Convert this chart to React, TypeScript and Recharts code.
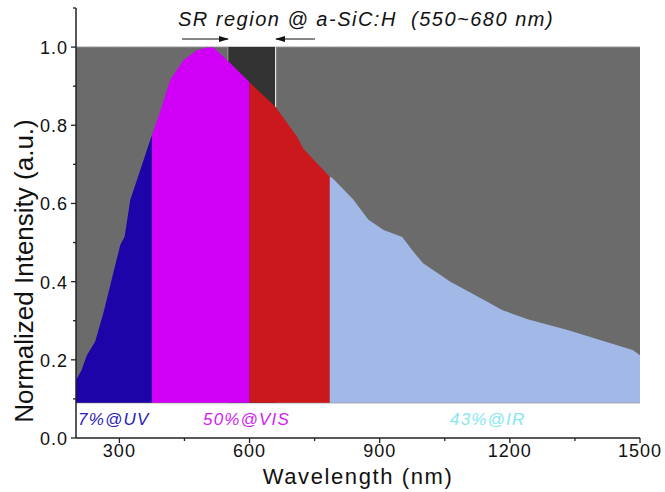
import { ComposedChart, Area, XAxis, YAxis, ReferenceLine } from 'recharts';

// spectrum
const wavelengths = [
  200, 213, 225, 244, 263, 282, 302, 312, 325, 348, 375, 394, 417, 448, 479, 502, 517,
  550, 600, 660, 710, 724, 785, 791, 839, 874, 909, 952, 975, 1000, 1063, 1149, 1183,
  1241, 1333, 1393, 1483, 1500,
];
const intensity = [
  0.148, 0.174, 0.212, 0.246, 0.319, 0.404, 0.494, 0.515, 0.609, 0.685, 0.775, 0.835, 0.916,
  0.967, 0.992, 0.999, 0.999, 0.965, 0.91, 0.847, 0.77, 0.74, 0.668, 0.665, 0.61, 0.558, 0.532,
  0.514, 0.48, 0.447, 0.4, 0.348, 0.327, 0.304, 0.276, 0.256, 0.225, 0.212,
];

const regionKeys = ['uv', 'vis', 'red', 'ir'];
const regionEdges = [200, 375, 600, 785, 1500];
const regionColors = ['#1c04a8', '#d000f6', '#cb181c', '#a2b9e8'];
const srBand = [550, 660];
const baseline = 0.09;

const xTicks = [300, 450, 600, 750, 900, 1050, 1200, 1350, 1500];
const xLabelled = [300, 600, 900, 1200, 1500];
const yTicks = [0, 0.1, 0.2, 0.3, 0.4, 0.5, 0.6, 0.7, 0.8, 0.9, 1.0, 1.1];
const yLabelled = [0, 0.2, 0.4, 0.6, 0.8, 1.0];

const labels = [
  { text: '7%@UV', color: '#2a1db8', x: 78 },
  { text: '50%@VIS', color: '#d21cf0', x: 203 },
  { text: '43%@IR', color: '#86e6f2', x: 450 },
];

const chartData = wavelengths.map((w, i) => {
  const row: Record<string, any> = { w, bg: [baseline, 1] };
  row.band = w >= srBand[0] && w <= srBand[1] ? [baseline, 1] : null;
  regionKeys.forEach((k, r) => {
    row[k] = w >= regionEdges[r] && w <= regionEdges[r + 1] ? [baseline, intensity[i]] : null;
  });
  return row;
});

const bandEdgeValue = (w: number) => intensity[wavelengths.indexOf(w)];

const FONT = '"Liberation Sans", Arial, sans-serif';

function XTick({ x, y, payload }: any) {
  const major = xLabelled.includes(payload.value);
  return (
    <g>
      <line x1={x} x2={x} y1={y} y2={y + (major ? 5 : 3)} stroke="#222" strokeWidth={1.3} />
      {major && (
        <text x={x} y={y + 19} textAnchor="middle" fontSize={18} letterSpacing={1} fill="#111" fontFamily={FONT}>
          {payload.value}
        </text>
      )}
    </g>
  );
}

function YTick({ x, y, payload }: any) {
  const v = Math.round(payload.value * 10) / 10;
  const major = yLabelled.some((t) => Math.abs(t - v) < 1e-6);
  return (
    <g>
      <line x1={x} x2={x - (major ? 5 : 3)} y1={y} y2={y} stroke="#222" strokeWidth={1.3} />
      {major && (
        <text x={x - 8} y={y + 7} textAnchor="end" fontSize={18} letterSpacing={1} fill="#111" fontFamily={FONT}>
          {v.toFixed(1)}
        </text>
      )}
    </g>
  );
}

export default function App() {
  return (
    <div style={{ position: 'relative', width: 665, height: 492, background: '#fff' }}>
      <style>{'body{margin:0}'}</style>
      <ComposedChart
        width={665}
        height={492}
        data={chartData}
        margin={{ top: 8, right: 25, left: 0, bottom: 0 }}
      >
        <XAxis
          dataKey="w"
          type="number"
          domain={[200, 1500]}
          ticks={xTicks}
          interval={0}
          height={54}
          tickSize={0}
          tickMargin={0}
          tick={<XTick />}
          axisLine={{ stroke: '#222', strokeWidth: 1.5 }}
        />
        <YAxis
          type="number"
          domain={[0, 1.1]}
          ticks={yTicks}
          interval={0}
          width={76}
          tickSize={0}
          tickMargin={0}
          tick={<YTick />}
          axisLine={{ stroke: '#222', strokeWidth: 1.5 }}
        />
        <Area dataKey="bg" type="linear" fill="#6b6b6b" fillOpacity={1} stroke="#8a8a8a" strokeWidth={1} isAnimationActive={false} dot={false} activeDot={false} />
        <Area dataKey="band" type="linear" fill="#333333" fillOpacity={1} stroke="none" isAnimationActive={false} dot={false} activeDot={false} />
        {regionKeys.map((k, r) => (
          <Area
            key={k}
            dataKey={k}
            type="linear"
            fill={regionColors[r]}
            fillOpacity={1}
            stroke="none"
            isAnimationActive={false}
            dot={false}
            activeDot={false}
          />
        ))}
        <ReferenceLine
          segment={[{ x: srBand[0], y: bandEdgeValue(srBand[0]) }, { x: srBand[0], y: 1 }]}
          stroke="#9a9a9a"
          strokeWidth={1}
        />
        <ReferenceLine
          segment={[{ x: srBand[1], y: bandEdgeValue(srBand[1]) }, { x: srBand[1], y: 1 }]}
          stroke="#e6e6e6"
          strokeWidth={1.2}
        />
      </ComposedChart>
      <svg
        width={665}
        height={492}
        style={{ position: 'absolute', left: 0, top: 0, pointerEvents: 'none' }}
        fontFamily={FONT}
      >
        <defs>
          <marker id="ah" markerWidth="10" markerHeight="6" refX="9" refY="3" orient="auto" markerUnits="userSpaceOnUse">
            <path d="M0,0 L10,3 L0,6 z" fill="#111" />
          </marker>
        </defs>
        <text x={178} y={26} fontSize={20} letterSpacing={1.5} fontStyle="italic" fill="#111">
          SR region @ a-SiC:H{'\u00a0\u00a0'}(550~680 nm)
        </text>
        <line x1={182} y1={39} x2={228} y2={39} stroke="#111" strokeWidth={1.2} markerEnd="url(#ah)" />
        <line x1={315} y1={39} x2={276} y2={39} stroke="#111" strokeWidth={1.2} markerEnd="url(#ah)" />
        {labels.map((l) => (
          <text key={l.text} x={l.x} y={425} fontSize={17} letterSpacing={1.2} fontStyle="italic" fill={l.color}>
            {l.text}
          </text>
        ))}
        <text x={358} y={484} textAnchor="middle" fontSize={22} letterSpacing={1.6} fill="#111">
          Wavelength (nm)
        </text>
        <text transform="translate(33,271) rotate(-90)" textAnchor="middle" fontSize={26} fill="#111">
          Normalized Intensity (a.u.)
        </text>
      </svg>
    </div>
  );
}
